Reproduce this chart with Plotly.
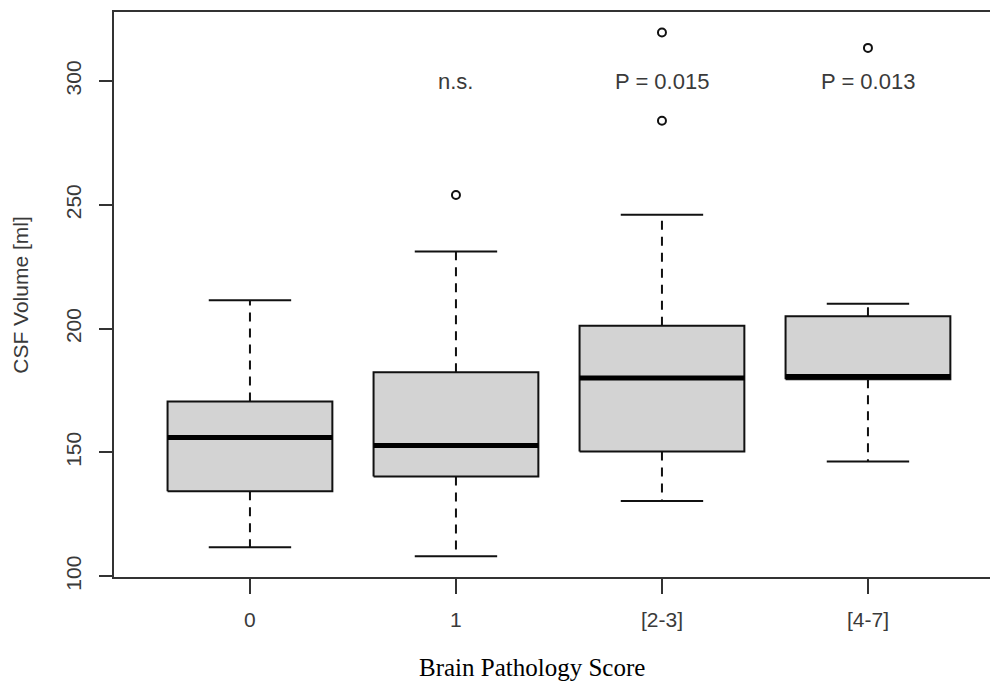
import plotly.graph_objects as go

# ---- data ----
categories = ["0", "1", "[2-3]", "[4-7]"]
lower_whisker = [111.7, 108.1, 130.4, 146.4]
q1 = [134.3, 140.3, 150.4, 179.6]
median = [156.0, 152.8, 180.1, 180.7]
q3 = [170.6, 182.4, 201.2, 205.0]
upper_whisker = [211.5, 231.2, 246.0, 210.1]
outliers = [[], [254.0], [284.0, 319.6], [313.4]]
sig_labels = ["", "n.s.", "P = 0.015", "P = 0.013"]
sig_label_y = 300
y_ticks = [100, 150, 200, 250, 300]

BOX_HALF = 0.4
CAP_HALF = 0.2
LINE = "#111111"
AXIS = "#333333"
TXT = "#3a3a3a"

fig = go.Figure()
pos = list(range(1, len(categories) + 1))

# whiskers (dashed)
wx, wy = [], []
for p, lo, a, b, hi in zip(pos, lower_whisker, q1, q3, upper_whisker):
    wx += [p, p, None, p, p, None]
    wy += [b, hi, None, a, lo, None]
fig.add_trace(go.Scatter(x=wx, y=wy, mode="lines",
                         line=dict(color=LINE, width=2, dash="9px,7px"),
                         hoverinfo="skip"))

# whisker caps
cx, cy = [], []
for p, lo, hi in zip(pos, lower_whisker, upper_whisker):
    cx += [p - CAP_HALF, p + CAP_HALF, None, p - CAP_HALF, p + CAP_HALF, None]
    cy += [hi, hi, None, lo, lo, None]
fig.add_trace(go.Scatter(x=cx, y=cy, mode="lines",
                         line=dict(color=LINE, width=2), hoverinfo="skip"))

# boxes
for p, a, b in zip(pos, q1, q3):
    fig.add_trace(go.Scatter(
        x=[p - BOX_HALF, p + BOX_HALF, p + BOX_HALF, p - BOX_HALF, p - BOX_HALF],
        y=[a, a, b, b, a], mode="lines", fill="toself",
        fillcolor="#d3d3d3", line=dict(color=LINE, width=2), hoverinfo="skip"))

# medians
mx, my = [], []
for p, m in zip(pos, median):
    mx += [p - BOX_HALF, p + BOX_HALF, None]
    my += [m, m, None]
fig.add_trace(go.Scatter(x=mx, y=my, mode="lines",
                         line=dict(color="#000000", width=5), hoverinfo="skip"))

# outliers
ox, oy = [], []
for p, outs in zip(pos, outliers):
    for o in outs:
        ox.append(p)
        oy.append(o)
fig.add_trace(go.Scatter(x=ox, y=oy, mode="markers",
                         marker=dict(symbol="circle-open", size=8, color=LINE,
                                     line=dict(width=2, color=LINE)),
                         hoverinfo="skip"))

# significance labels
for p, t in zip(pos, sig_labels):
    if t:
        fig.add_annotation(x=p, y=sig_label_y, text=t, showarrow=False,
                           xanchor="center", yanchor="middle",
                           font=dict(family="Liberation Sans, Arial", size=22, color=TXT))

# axis titles
fig.add_annotation(x=-0.107, y=0.5, xref="paper", yref="paper",
                   text="CSF Volume [ml]", textangle=-90, showarrow=False,
                   xanchor="center", yanchor="middle",
                   font=dict(family="Liberation Sans, Arial", size=21, color=TXT))
fig.add_annotation(x=0.477, y=-0.161, xref="paper", yref="paper",
                   text="Brain Pathology Score", showarrow=False,
                   xanchor="center", yanchor="middle",
                   font=dict(family="Liberation Serif, Times New Roman", size=25, color="#000000"))

fig.update_layout(
    width=990, height=682,
    margin=dict(l=114, r=0, t=12, b=105),
    paper_bgcolor="white", plot_bgcolor="white",
    showlegend=False, hovermode=False,
    xaxis=dict(range=[0.34, 0.34 + 876 / 206], tickvals=pos, ticktext=categories,
               showgrid=False, zeroline=False, showline=True, mirror=True,
               linecolor=AXIS, linewidth=2, ticks="outside", ticklen=15,
               tickwidth=2, tickcolor=AXIS, ticklabelstandoff=8,
               tickfont=dict(family="Liberation Sans, Arial", size=21, color=TXT)),
    yaxis=dict(range=[99.7, 327.9], tickvals=y_ticks,
               showgrid=False, zeroline=False, showline=True, mirror=False,
               linecolor=AXIS, linewidth=2, ticks="outside", ticklen=13,
               tickwidth=2, tickcolor=AXIS, tickangle=-90, ticklabelstandoff=10,
               tickfont=dict(family="Liberation Sans, Arial", size=21, color=TXT)),
)

fig.write_html("out.html")
